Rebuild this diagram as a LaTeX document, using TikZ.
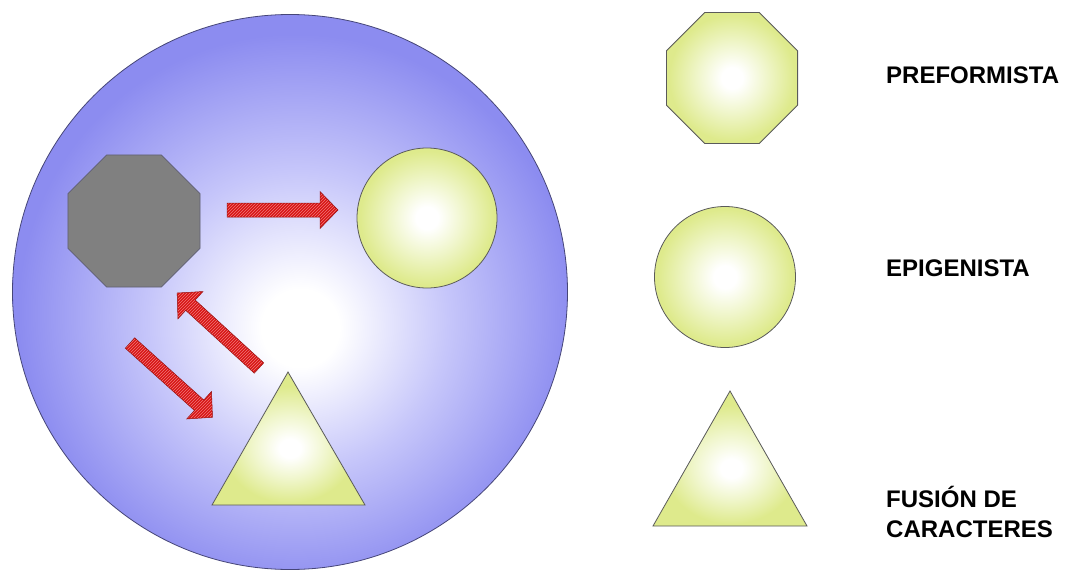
\documentclass[tikz,border=0pt]{standalone}
\usepackage{fontspec}
\setmainfont{Liberation Sans}
\usetikzlibrary{shapes.geometric,patterns}
\definecolor{ballblue}{RGB}{140,140,240}
\definecolor{ballmid}{RGB}{198,198,250}
\definecolor{ballline}{RGB}{70,70,120}
\definecolor{yel}{RGB}{222,234,140}
\definecolor{yelmid}{RGB}{240,246,204}
\definecolor{shapeline}{RGB}{90,90,90}
\definecolor{octgray}{RGB}{128,128,128}
\definecolor{octline}{RGB}{95,95,115}
\definecolor{arrred}{RGB}{215,20,20}
\definecolor{arrhatch}{RGB}{240,120,120}
\definecolor{arrline}{RGB}{150,20,20}
\pgfdeclareradialshading{ballshade}{\pgfpoint{1bp}{-3.5bp}}{color(0bp)=(white); color(3.5bp)=(white); color(13.5bp)=(ballmid); color(25bp)=(ballblue); color(50bp)=(ballblue)}
\pgfdeclareradialshading{yelshade}{\pgfpoint{0bp}{0bp}}{color(0bp)=(white); color(4bp)=(white); color(13bp)=(yelmid); color(24bp)=(yel); color(50bp)=(yel)}
\pgfdeclareradialshading{yeltrishade}{\pgfpoint{0.5bp}{-4bp}}{color(0bp)=(white); color(3.5bp)=(white); color(12bp)=(yelmid); color(22bp)=(yel); color(50bp)=(yel)}
\begin{document}
\begin{tikzpicture}[x=1pt,y=-1pt,
  bigball/.style={circle,draw=ballline,line width=0.8pt,shading=ballshade,inner sep=0pt},
  yelshape/.style={draw=shapeline,line width=0.8pt,shading=yelshade},
  yeltri/.style={draw=shapeline,line width=0.8pt,shading=yeltrishade},
  grayoct/.style={regular polygon,regular polygon sides=8,draw=octline,line width=0.8pt,fill=octgray,inner sep=0pt},
  yeloct/.style={regular polygon,regular polygon sides=8,yelshape,inner sep=0pt},
  yelcirc/.style={circle,yelshape,inner sep=0pt},
  blockarrow/.style={preaction={fill=arrred},pattern=north east lines,pattern color=arrhatch,draw=arrline,line width=0.5pt},
  legendtext/.style={font=\fontsize{24}{30}\selectfont\bfseries,inner sep=0pt,anchor=base west,align=left}]
\fill[white] (0,0) rectangle (1068,570);
\useasboundingbox (0,0) rectangle (1068,570);

% main cell
\node[bigball,minimum size=555pt] (cell) at (290,292) {};

% shapes inside the cell
\node[grayoct,minimum size=143pt] (oct) at (134,221) {};
\node[yelcirc,minimum size=140pt] (circ) at (427,218) {};
\coordinate (triA) at (288,372);
\coordinate (triB) at (365,505);
\coordinate (triC) at (212,505);
\path[yeltri] (triA) -- (triB) -- (triC) -- cycle;

% block arrows
\begin{scope}[shift={(227,210)}]
  \path[blockarrow] (0,-7) -- (93,-7) -- (93,-18.5) -- (111,0) -- (93,18.5) -- (93,7) -- (0,7) -- cycle;
\end{scope}
\begin{scope}[shift={(259,368)},rotate=137.5]
  \path[blockarrow] (0,-7) -- (93,-7) -- (93,-18.5) -- (111,0) -- (93,18.5) -- (93,7) -- (0,7) -- cycle;
\end{scope}
\begin{scope}[shift={(130,343)},rotate=-42]
  \path[blockarrow] (0,-7) -- (93,-7) -- (93,-18.5) -- (111,0) -- (93,18.5) -- (93,7) -- (0,7) -- cycle;
\end{scope}

% legend
\node[yeloct,minimum size=142pt] (loct) at (732,78) {};
\node[yelcirc,minimum size=141pt] (lcirc) at (725,277) {};
\coordinate (ltriA) at (730,391);
\coordinate (ltriB) at (807,526);
\coordinate (ltriC) at (653,526);
\path[yeltri] (ltriA) -- (ltriB) -- (ltriC) -- cycle;

\node[legendtext] (t1) at (886,83) {PREFORMISTA};
\node[legendtext] (t2) at (886,276) {EPIGENISTA};
\node[legendtext] (t3) at (886,537) {FUSIÓN DE\\CARACTERES};
\end{tikzpicture}
\end{document}
